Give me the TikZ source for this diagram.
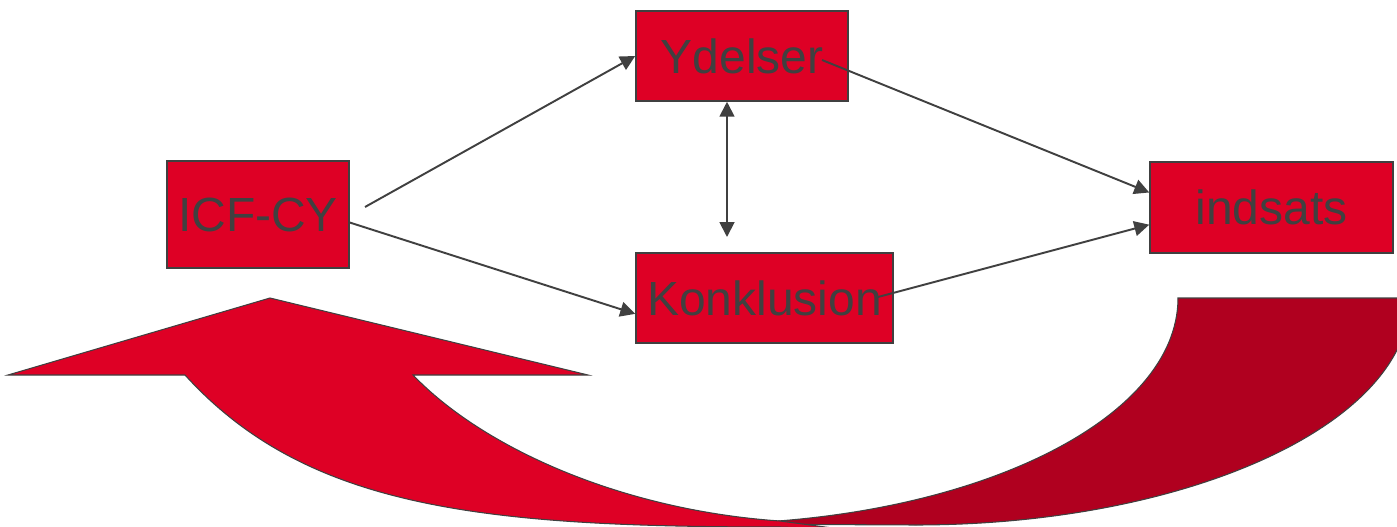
\documentclass[tikz,border=0pt]{standalone}
\usepackage{fontspec}
\setmainfont{Liberation Sans}
\usetikzlibrary{arrows.meta}
\definecolor{boxred}{HTML}{DE0025}
\definecolor{darkred}{HTML}{B0001F}
\definecolor{linegray}{HTML}{404040}
\begin{document}
\begin{tikzpicture}[x=0.02cm,y=-0.02cm,
  box/.style={rectangle,draw=linegray,line width=0.9pt,fill=boxred,text=linegray,inner sep=0pt,font=\fontsize{27.3}{32}\selectfont},
  link/.style={draw=linegray,line width=1.1pt,>={Triangle[length=8.5pt,width=8.5pt]}}]
  \useasboundingbox (0,0) rectangle (1397,527);
  \begin{scope}
    \clip (0,0) rectangle (1397,527);
    \filldraw[fill=darkred,draw=linegray,line width=0.6pt] (1178,298) -- (1410,298) .. controls (1410,424) and (1188,525) .. (915,525) -- (700,524) .. controls (964,524) and (1178,423) .. (1178,298) -- cycle;
    \filldraw[fill=boxred,draw=linegray,line width=0.6pt] (413,375) -- (588,375) -- (270,298) -- (8,375) -- (185,375) .. controls (306,508) and (480,527) .. (780,527) -- (840,529) -- (780,521) .. controls (620,510) and (482,447) .. (413,375) -- cycle;
  \end{scope}
  \node[box,minimum width=3.64cm,minimum height=2.14cm] (icf) at (258,214.5) {ICF-CY};
  \node[box,minimum width=4.24cm,minimum height=1.8cm] (ydelser) at (742,56) {Ydelser};
  \node[box,minimum width=5.14cm,minimum height=1.8cm] (konklusion) at (764.5,298) {Konklusion};
  \node[box,minimum width=4.86cm,minimum height=1.82cm] (indsats) at (1271.5,207.5) {indsats};
  \coordinate (icfout) at (365,207);
  \coordinate (ydelserout) at (822,60);
  \coordinate (konklusionout) at (878,297);
  \coordinate (konklusiontop) at (727,237);
  \draw[link,->] (icfout) -- (ydelser.west);
  \draw[link,->] (icf.-5) -- (konklusion.187);
  \draw[link,<->] (ydelser.south -| konklusiontop) -- (konklusiontop);
  \draw[link,->] (ydelserout) -- (indsats.173);
  \draw[link,->] (konklusionout) -- (indsats.188);
\end{tikzpicture}
\end{document}
